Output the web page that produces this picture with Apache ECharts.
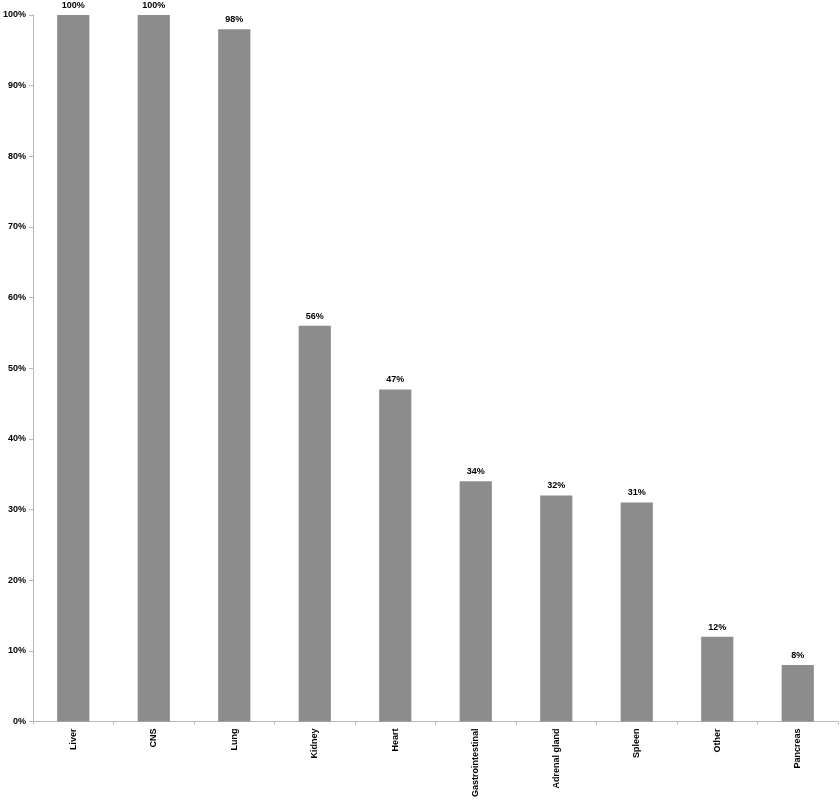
<!DOCTYPE html>
<html><head><meta charset="utf-8">
<script src="https://cdn.jsdelivr.net/npm/echarts@6/dist/echarts.min.js"></script>
<style>html,body{margin:0;padding:0;background:#fff}#c{width:840px;height:800px}</style>
</head><body><div id="c"></div>
<script>
const categories = ['Liver','CNS','Lung','Kidney','Heart','Gastrointestinal','Adrenal gland','Spleen','Other','Pancreas'];
const values = [100,100,98,56,47,34,32,31,12,8];
const chart = echarts.init(document.getElementById('c'));
chart.setOption({
  animation:false,
  grid:{left:32,right:2,top:15,bottom:77,containLabel:false},
  xAxis:{type:'category',data:categories,
    axisLine:{lineStyle:{color:'#b8b8b8',width:1}},
    axisTick:{show:true,length:3,lineStyle:{color:'#b8b8b8'}},
    axisLabel:{rotate:90,fontFamily:'Liberation Sans, Arial',fontWeight:'bold',fontSize:9,color:'#000',margin:7}},
  yAxis:{type:'value',min:0,max:100,interval:10,
    axisLine:{show:true,lineStyle:{color:'#b8b8b8',width:1}},
    axisTick:{show:true,length:4,lineStyle:{color:'#b8b8b8'}},
    splitLine:{show:false},
    axisLabel:{formatter:'{value}%',fontFamily:'Liberation Sans, Arial',fontWeight:'bold',fontSize:9,color:'#000',margin:7}},
  series:[{type:'bar',data:values,barWidth:'40%',itemStyle:{color:'#8c8c8c'},
    label:{show:true,position:'top',formatter:'{c}%',fontFamily:'Liberation Sans, Arial',fontWeight:'bold',fontSize:9,color:'#000',distance:5}}]
});
</script></body></html>
